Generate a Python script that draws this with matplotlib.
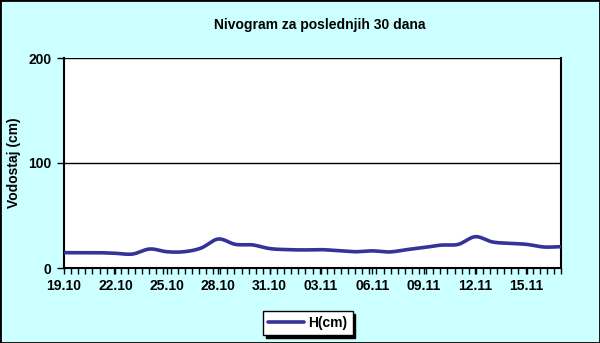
import numpy as np
import matplotlib
matplotlib.use("Agg")
import matplotlib.pyplot as plt
from matplotlib.patches import Rectangle

# ---- data ----
days = list(range(30))
levels = [14.6, 14.6, 14.6, 14.0, 13.3, 18.1, 15.5, 15.5, 19.0, 27.6,
          22.5, 22.0, 18.5, 17.5, 17.2, 17.5, 16.5, 15.5, 16.3, 15.3,
          17.5, 19.5, 21.8, 22.5, 29.8, 24.8, 23.5, 22.5, 20.0, 20.3]
tick_days = [0, 3, 6, 9, 12, 15, 18, 21, 24, 27]
tick_labels = ["19.10", "22.10", "25.10", "28.10", "31.10",
               "03.11", "06.11", "09.11", "12.11", "15.11"]
series_name = "H(cm)"

plt.rcParams['font.family'] = ['Liberation Sans', 'DejaVu Sans']

def smooth(x, y, n=20):
    # Catmull-Rom rendering of the line through the points (Excel "smoothed line")
    x = np.asarray(x, float); y = np.asarray(y, float)
    px = np.concatenate([[2*x[0]-x[1]], x, [2*x[-1]-x[-2]]])
    py = np.concatenate([[2*y[0]-y[1]], y, [2*y[-1]-y[-2]]])
    xs, ys = [], []
    t = np.linspace(0, 1, n, endpoint=False)
    for i in range(1, len(px)-2):
        p0, p1, p2, p3 = py[i-1], py[i], py[i+1], py[i+2]
        q0, q1, q2, q3 = px[i-1], px[i], px[i+1], px[i+2]
        f = lambda a0, a1, a2, a3: 0.5*((2*a1) + (-a0+a2)*t + (2*a0-5*a1+4*a2-a3)*t**2 + (-a0+3*a1-3*a2+a3)*t**3)
        xs.append(f(q0, q1, q2, q3)); ys.append(f(p0, p1, p2, p3))
    xs.append([x[-1]]); ys.append([y[-1]])
    return np.concatenate(xs), np.concatenate(ys)

fig = plt.figure(figsize=(6, 3.43), dpi=100, facecolor='#CCFFFF')
fig.patches.append(Rectangle((0, 0), 1, 1, transform=fig.transFigure, fill=False,
                             edgecolor='black', linewidth=2, zorder=10))

ax = fig.add_axes([64/600, 1-268/343, (561-64)/600, (268-58)/343])
ax.set_facecolor('white')
sx, sy = smooth(days, levels)
line, = ax.plot(sx, sy, color='#333399', linewidth=2.6, solid_capstyle='round',
                label=series_name, zorder=3)

ax.set_xlim(0, 29)
ax.set_ylim(0, 200)
ax.set_yticks([0, 100, 200])
ax.set_yticklabels(['0', '100', '200'], fontsize=10, fontweight='bold')
ax.set_xticks(tick_days)
ax.set_xticklabels(tick_labels, fontsize=10, fontweight='bold')
ax.set_xticks(np.linspace(0, 29, 71), minor=True)
ax.tick_params(axis='x', which='both', length=4, width=1, direction='out', pad=4)
ax.tick_params(axis='y', which='major', length=5, width=1, direction='out', pad=4)
ax.grid(axis='y', color='black', linewidth=1)
for s in ['left', 'bottom', 'right']:
    ax.spines[s].set_color('black'); ax.spines[s].set_linewidth(1.5)
ax.spines['top'].set_visible(False)
ax.set_ylabel('Vodostaj (cm)', fontsize=10, fontweight='bold', labelpad=5)

fig.text(320/600, 1-25/343, 'Nivogram za poslednjih 30 dana', ha='center', va='center',
         fontsize=10, fontweight='bold')

leg = fig.legend(handles=[line], loc='center', bbox_to_anchor=(308/600, 1-323/343),
                 frameon=True, fancybox=False,
                 shadow={'color': 'black', 'alpha': 1},
                 prop={'weight': 'bold', 'size': 10},
                 handlelength=2.6, borderpad=0.35, handletextpad=0.3)
leg.get_frame().set_edgecolor('black')
leg.get_frame().set_linewidth(1)

fig.savefig('out.png', dpi=100, facecolor=fig.get_facecolor())
